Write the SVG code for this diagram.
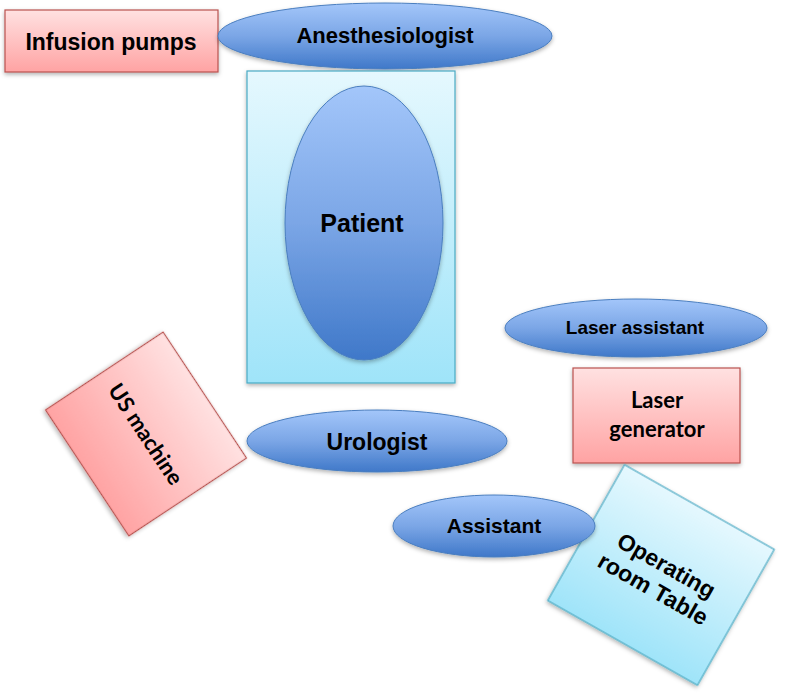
<svg xmlns="http://www.w3.org/2000/svg" width="786" height="698" viewBox="0 0 786 698">
<defs>
<linearGradient id="gBlue" x1="0" y1="0" x2="0" y2="1">
<stop offset="0" stop-color="#a3c6fa"/>
<stop offset="0.5" stop-color="#7ba6e6"/>
<stop offset="1" stop-color="#3f78c9"/>
</linearGradient>
<linearGradient id="gPink" x1="0" y1="0" x2="0" y2="1">
<stop offset="0" stop-color="#ffe1e1"/>
<stop offset="1" stop-color="#ffa3a3"/>
</linearGradient>
<linearGradient id="gCyan" x1="0" y1="0" x2="0" y2="1">
<stop offset="0" stop-color="#e5f8fe"/>
<stop offset="1" stop-color="#9fe4f9"/>
</linearGradient>
<filter id="sh" x="-10%" y="-10%" width="120%" height="130%">
<feDropShadow dx="0" dy="2" stdDeviation="2" flood-color="#000" flood-opacity="0.3"/>
</filter>
</defs>
<style>
.blue{fill:url(#gBlue);stroke:#4a7ebf;stroke-width:1;filter:url(#sh)}
.pink{fill:url(#gPink);stroke:#b9524f;stroke-width:1.2;filter:url(#sh)}
.cyan{fill:url(#gCyan);stroke:#4aaac4;stroke-width:1.2;filter:url(#sh)}
.t{font-family:"Liberation Sans",Arial,sans-serif;font-weight:bold;fill:#000;text-anchor:middle}
.c{font-family:Lato,"Open Sans",sans-serif;font-weight:bold;fill:#000;text-anchor:middle}
</style>
<rect width="786" height="698" fill="#fff"/>
<g id="connectors"/>
<g id="infusion-pumps">
<rect class="pink" x="5" y="10" width="213" height="62"/>
<text class="t" x="111" y="50" font-size="23">Infusion pumps</text>
</g>
<g id="anesthesiologist">
<ellipse class="blue" cx="385" cy="36" rx="167" ry="33"/>
<text class="t" x="385" y="43" font-size="22">Anesthesiologist</text>
</g>
<g id="patient-area">
<rect class="cyan" x="247" y="71" width="208" height="312"/>
</g>
<g id="patient">
<ellipse class="blue" cx="364" cy="223" rx="79" ry="137"/>
<text class="t" x="362" y="232" font-size="25">Patient</text>
</g>
<g id="laser-assistant">
<ellipse class="blue" cx="636" cy="328" rx="131" ry="29"/>
<text class="t" x="635" y="334" font-size="19">Laser assistant</text>
</g>
<g id="laser-generator">
<rect class="pink" x="573" y="368" width="167" height="95"/>
<text class="c" x="657" y="408" font-size="22">Laser</text>
<text class="c" x="657" y="437" font-size="22">generator</text>
</g>
<g id="us-machine" transform="translate(146,434) rotate(56.5)">
<rect class="pink" x="-75.5" y="-70.5" width="151" height="141"/>
<text class="c" x="0" y="8" font-size="22">US machine</text>
</g>
<g id="urologist">
<ellipse class="blue" cx="377" cy="441" rx="130" ry="31"/>
<text class="t" x="377" y="450" font-size="23">Urologist</text>
</g>
<g id="operating-room-table" transform="translate(661,575) rotate(29.5)">
<rect class="cyan" x="-86" y="-78" width="172" height="156"/>
<text class="t" x="0" y="-3" font-size="23">Operating</text>
<text class="t" x="0" y="24" font-size="23">room Table</text>
</g>
<g id="assistant">
<ellipse class="blue" cx="494" cy="526" rx="101" ry="31"/>
<text class="t" x="494" y="533" font-size="21">Assistant</text>
</g>
</svg>
